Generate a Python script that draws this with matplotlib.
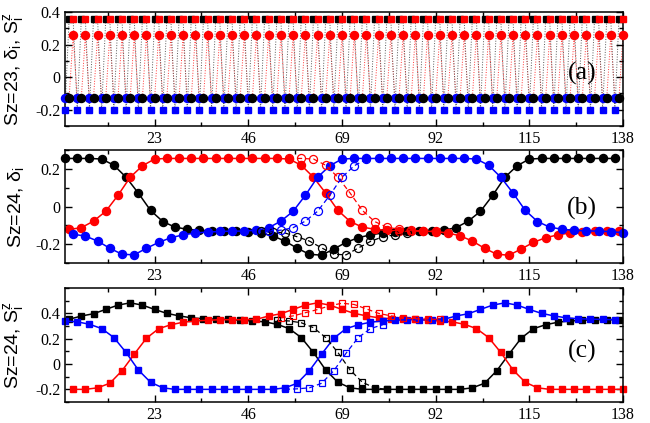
import numpy as np
import matplotlib
matplotlib.use("Agg")
import matplotlib.pyplot as plt
from matplotlib.ticker import MultipleLocator

plt.rcParams['font.family'] = 'Liberation Serif'
plt.rcParams['mathtext.fontset'] = 'custom'
plt.rcParams['mathtext.rm'] = 'Liberation Sans'
plt.rcParams['mathtext.it'] = 'Liberation Sans:italic'

RED = '#ff0000'
BLUE = '#0000ff'
BLACK = '#000000'

# ---- panel (a): uniform Sz=23 state, unit cell (blue, black, red) ----
a_sites = np.arange(1, 139)
a_delta_cell = [-0.13, -0.13, 0.26]
a_sz_cell = [-0.2, 0.355, 0.355]

# ---- panel (b): delta_i for Sz=24 ----
b_black_sites = np.arange(1, 137, 3)
b_black = [0.256, 0.256, 0.256, 0.253, 0.22, 0.156, 0.072, -0.02, -0.079, -0.109,
           -0.12, -0.126, -0.129, -0.13, -0.13, -0.133, -0.14, -0.155, -0.183, -0.221,
           -0.253, -0.258, -0.225, -0.19, -0.165, -0.15, -0.14, -0.135, -0.132, -0.13,
           -0.13, -0.125, -0.112, -0.077, -0.025, 0.06, 0.156, 0.217, 0.253, 0.256,
           0.256, 0.256, 0.256, 0.256, 0.256, 0.256]
b_red_sites = np.arange(2, 138, 3)
b_red = [-0.121, -0.112, -0.077, -0.025, 0.06, 0.156, 0.217, 0.253, 0.256, 0.256,
         0.256, 0.256, 0.256, 0.256, 0.256, 0.256, 0.256, 0.256, 0.253, 0.22,
         0.156, 0.072, -0.02, -0.079, -0.109, -0.12, -0.126, -0.129, -0.13, -0.13,
         -0.133, -0.14, -0.155, -0.183, -0.221, -0.253, -0.258, -0.225, -0.19, -0.165,
         -0.15, -0.14, -0.135, -0.132, -0.13, -0.128]
b_blue_sites = np.arange(3, 139, 3)
b_blue = [-0.147, -0.156, -0.183, -0.221, -0.253, -0.256, -0.221, -0.19, -0.165, -0.15,
          -0.14, -0.135, -0.132, -0.13, -0.13, -0.125, -0.112, -0.077, -0.025, 0.06,
          0.156, 0.217, 0.253, 0.256, 0.256, 0.256, 0.256, 0.256, 0.256, 0.256,
          0.256, 0.256, 0.256, 0.253, 0.22, 0.156, 0.072, -0.02, -0.079, -0.109,
          -0.12, -0.126, -0.129, -0.13, -0.133, -0.138]

# open symbols (second state), panel (b)
bo_red_sites = np.arange(56, 93, 3)
bo_red = [0.256, 0.256, 0.253, 0.22, 0.156, 0.072, -0.02, -0.079, -0.109, -0.12,
          -0.126, -0.129, -0.13]
bo_blue_sites = np.arange(51, 76, 3)
bo_blue = [-0.13, -0.125, -0.112, -0.077, -0.025, 0.06, 0.156, 0.217, 0.253]
bo_black_sites = np.arange(49, 86, 3)
bo_black = [-0.13, -0.133, -0.14, -0.16, -0.183, -0.219, -0.253, -0.256, -0.22, -0.185,
            -0.16, -0.15, -0.14]

# ---- panel (c): S^z_i for Sz=24 ----
c_blue_sites = np.arange(1, 137, 3)
c_blue = [0.34, 0.333, 0.314, 0.28, 0.209, 0.091, -0.047, -0.144, -0.188, -0.2,
          -0.2, -0.2, -0.2, -0.2, -0.2, -0.2, -0.2, -0.2, -0.188, -0.152,
          -0.053, 0.078, 0.204, 0.279, 0.31, 0.33, 0.34, 0.345, 0.35, 0.35,
          0.35, 0.353, 0.379, 0.397, 0.431, 0.465, 0.483, 0.465, 0.431, 0.40,
          0.38, 0.365, 0.357, 0.355, 0.352, 0.35]
c_black_sites = np.arange(2, 138, 3)
c_black = [0.353, 0.379, 0.397, 0.431, 0.465, 0.483, 0.465, 0.431, 0.40, 0.38,
           0.365, 0.357, 0.355, 0.352, 0.345, 0.34, 0.333, 0.314, 0.28, 0.209,
           0.091, -0.047, -0.144, -0.188, -0.2, -0.2, -0.2, -0.2, -0.2, -0.2,
           -0.2, -0.2, -0.2, -0.188, -0.152, -0.053, 0.078, 0.204, 0.279, 0.31,
           0.33, 0.34, 0.345, 0.35, 0.35, 0.35]
c_red_sites = np.arange(3, 139, 3)
c_red = [-0.2, -0.2, -0.188, -0.152, -0.053, 0.078, 0.204, 0.279, 0.31, 0.33,
         0.34, 0.345, 0.35, 0.35, 0.35, 0.353, 0.379, 0.397, 0.431, 0.465,
         0.483, 0.465, 0.431, 0.40, 0.38, 0.365, 0.357, 0.355, 0.352, 0.345,
         0.34, 0.333, 0.314, 0.28, 0.209, 0.091, -0.047, -0.144, -0.188, -0.2,
         -0.2, -0.2, -0.2, -0.2, -0.2, -0.2]

# open symbols (second state), panel (c)
co_black_sites = np.arange(53, 81, 3)
co_black = [0.345, 0.34, 0.326, 0.287, 0.209, 0.091, -0.047, -0.144, -0.188, -0.2]
co_red_sites = np.arange(54, 94, 3)
co_red = [0.365, 0.38, 0.405, 0.43, 0.46, 0.48, 0.47, 0.435, 0.40, 0.38,
          0.365, 0.357, 0.355, 0.352]
co_blue_sites = np.arange(55, 80, 3)
co_blue = [-0.2, -0.196, -0.188, -0.152, -0.053, 0.085, 0.209, 0.28, 0.31]

xticks = [23, 46, 69, 92, 115, 138]

fig = plt.figure(figsize=(6.5, 4.23), dpi=100)
ax_a = fig.add_axes([0.1, 0.702, 0.8585, 0.2695])
ax_b = fig.add_axes([0.1, 0.378, 0.8585, 0.267])
ax_c = fig.add_axes([0.1, 0.0496, 0.8585, 0.2695])


def style_axis(ax, ylim, yticks, ylabel, tag, tag_y):
    ax.set_xlim(1, 138)
    ax.set_ylim(*ylim)
    ax.set_xticks(xticks)
    ax.set_xticklabels([str(t) for t in xticks])
    ax.xaxis.set_minor_locator(MultipleLocator(11.5))
    ax.set_yticks(yticks)
    ax.set_yticklabels(['0' if t == 0 else '%g' % t for t in yticks])
    ax.yaxis.set_minor_locator(MultipleLocator(0.1))
    ax.tick_params(which='both', direction='in', top=True, right=True,
                   labelsize=11.5, width=1.0)
    ax.tick_params(which='major', length=5)
    ax.tick_params(which='minor', length=3)
    for sp in ax.spines.values():
        sp.set_linewidth(1.1)
    ax.set_ylabel(ylabel, fontsize=14, family='Liberation Sans')
    ax.yaxis.set_label_coords(-0.07, 0.5)
    ax.text(0.926, tag_y, tag, transform=ax.transAxes, fontsize=18.5,
            ha='center', va='center')


# panel (a)
a_delta = np.tile(a_delta_cell, 46)
a_sz = np.tile(a_sz_cell, 46)
ax_a.plot(a_sites, a_delta, ':', color=RED, lw=0.7, alpha=0.8)
ax_a.plot(a_sites, a_sz, ':', color='0.35', lw=0.7)
for k, col in enumerate([BLUE, BLACK, RED]):
    ax_a.plot(a_sites[k::3], a_sz[k::3], 's', color=col, ms=5, clip_on=False, zorder=3)
for k, col in enumerate([BLUE, BLACK, RED]):
    ax_a.plot(a_sites[k::3], a_delta[k::3], 'o', color=col, ms=5.8, clip_on=False, zorder=3)
style_axis(ax_a, (-0.3, 0.4), [-0.2, 0, 0.2, 0.4],
           r'Sz=23, $\mathregular{\delta_i}$, $\mathregular{S^z_i}$', '(a)', 0.46)

# panel (b)
for s, v, col in [(b_black_sites, b_black, BLACK), (b_red_sites, b_red, RED),
                  (b_blue_sites, b_blue, BLUE)]:
    ax_b.plot(s, v, '-o', color=col, lw=1.1, ms=5.8, clip_on=False)
for s, v, col in [(bo_black_sites, bo_black, BLACK), (bo_red_sites, bo_red, RED),
                  (bo_blue_sites, bo_blue, BLUE)]:
    ax_b.plot(s, v, '--o', color=col, lw=0.9, ms=5.8, mfc='none', mew=0.9,
              dashes=(4, 2.5))
style_axis(ax_b, (-0.3, 0.3), [-0.2, 0, 0.2],
           r'Sz=24, $\mathregular{\delta_i}$', '(b)', 0.48)

# panel (c)
for s, v, col in [(c_black_sites, c_black, BLACK), (c_red_sites, c_red, RED),
                  (c_blue_sites, c_blue, BLUE)]:
    ax_c.plot(s, v, '-s', color=col, lw=1.1, ms=5, clip_on=False)
for s, v, col in [(co_black_sites, co_black, BLACK), (co_red_sites, co_red, RED),
                  (co_blue_sites, co_blue, BLUE)]:
    ax_c.plot(s, v, '--s', color=col, lw=0.9, ms=5, mfc='none', mew=0.9,
              dashes=(4, 2.5))
style_axis(ax_c, (-0.3, 0.6), [-0.2, 0, 0.2, 0.4],
           r'Sz=24, $\mathregular{S^z_i}$', '(c)', 0.44)

fig.savefig('out.png', dpi=100)
